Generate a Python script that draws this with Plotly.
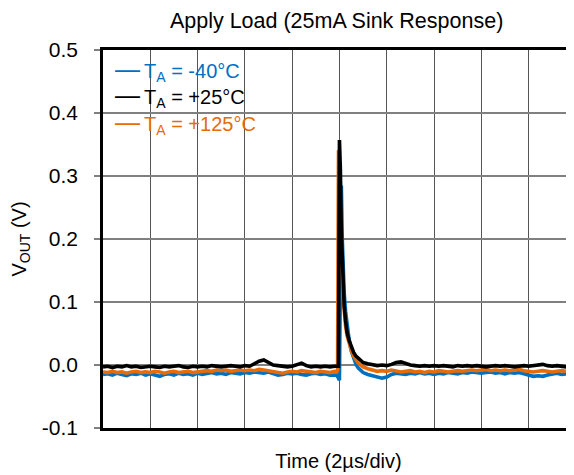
# -*- coding: utf-8 -*-

import plotly.graph_objects as go

# time axis in divisions (1 div = 2us)
time_div = [
    0.0, 0.1, 0.2, 0.3, 0.4, 0.5, 0.6, 0.7, 0.8, 0.9,
    1.0, 1.1, 1.2, 1.3, 1.4, 1.5, 1.6, 1.7, 1.8, 1.9,
    2.0, 2.1, 2.2, 2.3, 2.4, 2.5, 2.6, 2.7, 2.8, 2.9,
    3.0, 3.1, 3.2, 3.3, 3.4, 3.5, 3.6, 3.7, 3.8, 3.9,
    4.0, 4.1, 4.2, 4.3, 4.4, 4.5, 4.6, 4.7, 4.8, 4.9,
    4.94, 4.96, 4.98, 5.0, 5.02, 5.04, 5.06, 5.08, 5.1, 5.13,
    5.16, 5.2, 5.25, 5.3, 5.35, 5.4, 5.45, 5.5,
    5.6, 5.7, 5.8, 5.9, 6.0, 6.1, 6.2, 6.3, 6.4, 6.5,
    6.6, 6.7, 6.8, 6.9, 7.0, 7.1, 7.2, 7.3, 7.4, 7.5,
    7.6, 7.7, 7.8, 7.9, 8.0, 8.1, 8.2, 8.3, 8.4, 8.5,
    8.6, 8.7, 8.8, 8.9, 9.0, 9.1, 9.2, 9.3, 9.4, 9.5,
    9.6, 9.7, 9.8, 9.9, 10.0,
]

# VOUT (V), TA = -40C
vout_m40 = [
    -0.015, -0.014, -0.016, -0.013, -0.015, -0.017, -0.014, -0.015, -0.013, -0.016,
    -0.014, -0.016, -0.018, -0.015, -0.014, -0.016, -0.013, -0.015, -0.014, -0.016,
    -0.013, -0.015, -0.014, -0.012, -0.014, -0.013, -0.015, -0.012, -0.013, -0.014,
    -0.012, -0.013, -0.011, -0.012, -0.013, -0.011, -0.014, -0.016, -0.015, -0.013,
    -0.014, -0.013, -0.015, -0.016, -0.014, -0.013, -0.015, -0.014, -0.016, -0.015,
    -0.016, -0.018, -0.021, -0.024, 0.13, 0.285, 0.20, 0.15, 0.115, 0.085,
    0.062, 0.043, 0.022, 0.009, 0.001, -0.005, -0.009, -0.012,
    -0.015, -0.017, -0.020, -0.021, -0.019, -0.015, -0.013, -0.014, -0.015, -0.013,
    -0.014, -0.012, -0.014, -0.013, -0.015, -0.013, -0.014, -0.012, -0.013, -0.014,
    -0.012, -0.013, -0.011, -0.012, -0.013, -0.012, -0.011, -0.013, -0.012, -0.014,
    -0.012, -0.013, -0.012, -0.014, -0.016, -0.018, -0.017, -0.018, -0.016, -0.014,
    -0.013, -0.015, -0.014, -0.013, -0.014,
]

# VOUT (V), TA = +25C
vout_p25 = [
    -0.003, -0.002, -0.004, -0.002, -0.003, -0.001, -0.003, -0.002, -0.004, -0.003,
    -0.002, -0.003, -0.004, -0.002, -0.003, -0.002, -0.001, -0.003, -0.004, -0.002,
    -0.003, -0.002, -0.003, -0.001, -0.002, -0.003, -0.002, -0.001, -0.002, -0.003,
    -0.001, -0.002, 0.002, 0.006, 0.008, 0.004, 0.000, -0.001, -0.002, -0.003,
    -0.002, 0.001, 0.003, -0.001, -0.003, -0.002, -0.003, -0.002, -0.003, -0.002,
    -0.002, -0.003, -0.002, 0.357, 0.31, 0.21, 0.155, 0.12, 0.095, 0.07,
    0.052, 0.040, 0.029, 0.020, 0.014, 0.010, 0.007, 0.004,
    0.002, 0.000, -0.001, 0.000, -0.001, 0.001, 0.004, 0.005, 0.002, 0.000,
    -0.001, -0.002, -0.001, -0.002, -0.001, -0.002, -0.001, -0.002, -0.003, -0.001,
    -0.002, -0.001, -0.002, -0.001, -0.002, -0.003, -0.002, -0.001, -0.002, -0.001,
    -0.002, -0.003, -0.002, -0.001, -0.002, -0.001, 0.000, 0.001, -0.001, -0.002,
    -0.001, -0.002, -0.003, -0.002, -0.002,
]

# VOUT (V), TA = +125C
vout_p125 = [
    -0.011, -0.012, -0.010, -0.012, -0.011, -0.013, -0.011, -0.010, -0.012, -0.011,
    -0.012, -0.010, -0.011, -0.013, -0.011, -0.010, -0.012, -0.011, -0.010, -0.012,
    -0.011, -0.010, -0.009, -0.010, -0.008, -0.009, -0.008, -0.010, -0.009, -0.008,
    -0.009, -0.008, -0.009, -0.007, -0.008, -0.009, -0.010, -0.012, -0.013, -0.011,
    -0.010, -0.011, -0.009, -0.010, -0.011, -0.012, -0.010, -0.011, -0.012, -0.010,
    -0.011, -0.009, 0.341, 0.30, 0.235, 0.175, 0.135, 0.105, 0.083, 0.062,
    0.047, 0.034, 0.023, 0.014, 0.008, 0.003, 0.000, -0.003,
    -0.006, -0.008, -0.010, -0.009, -0.010, -0.008, -0.009, -0.011, -0.010, -0.009,
    -0.011, -0.010, -0.012, -0.010, -0.011, -0.009, -0.010, -0.011, -0.010, -0.009,
    -0.010, -0.009, -0.008, -0.009, -0.008, -0.007, -0.009, -0.008, -0.009, -0.008,
    -0.009, -0.008, -0.007, -0.009, -0.010, -0.011, -0.010, -0.009, -0.010, -0.011,
    -0.010, -0.009, -0.010, -0.011, -0.010,
]

y_ticks = [-0.1, 0.0, 0.1, 0.2, 0.3, 0.4, 0.5]
y_ticktext = ["-0.1", "0.0", "0.1", "0.2", "0.3", "0.4", "0.5"]

series = [
    ("T<sub>A</sub> = -40°C", vout_m40, "#0070C0"),
    ("T<sub>A</sub> = +125°C", vout_p125, "#E46C0A"),
    ("T<sub>A</sub> = +25°C", vout_p25, "#000000"),
]
legend_order = [
    ("T<sub>A</sub> = -40°C", "#0070C0"),
    ("T<sub>A</sub> = +25°C", "#000000"),
    ("T<sub>A</sub> = +125°C", "#E46C0A"),
]

FONT = "Liberation Sans, Arial, sans-serif"

fig = go.Figure()
for name, vals, color in series:
    fig.add_trace(go.Scatter(
        x=time_div, y=vals, name=name, mode="lines",
        line=dict(color=color, width=3.6),
        showlegend=False,
    ))

# legend drawn as coloured text, like the original
for i, (name, color) in enumerate(legend_order):
    fig.add_annotation(
        xref="paper", yref="paper", x=0.021, y=0.946 - i * 0.069,
        xanchor="left", yanchor="middle", showarrow=False,
        text='<span style="font-size:25px">—</span>\u2009' + name,
        font=dict(family=FONT, size=20, color=color),
    )

fig.update_xaxes(
    range=[0, 9.96], dtick=1, showticklabels=False, ticks="",
    showgrid=True, gridcolor="#555555", gridwidth=1.2, zeroline=False,
    showline=True, linecolor="black", linewidth=2.5, mirror=True,
    automargin=False,
    title=dict(text="Time (2µs/div)", font=dict(family=FONT, size=20, color="black"), standoff=25),
)
fig.update_yaxes(
    range=[-0.1, 0.5], tickvals=y_ticks, ticktext=y_ticktext,
    ticks="outside", ticklen=6, tickcolor="#808080", tickwidth=1.8,
    ticklabelstandoff=12, tickfont=dict(family=FONT, size=21, color="black"),
    showgrid=True, gridcolor="#808080", gridwidth=1.8, zeroline=False,
    showline=True, linecolor="black", linewidth=2.5, mirror=False,
    automargin=False,
    title=dict(text="V<sub>OUT</sub> (V)", font=dict(family=FONT, size=20, color="black"), standoff=14),
)
# the page body adds an 8px offset, margins below allow for it
fig.update_layout(
    width=574, height=475,
    margin=dict(l=95, r=8, t=42, b=55, autoexpand=False),
    paper_bgcolor="white", plot_bgcolor="white",
    title=dict(text="Apply Load (25mA Sink Response)", xref="paper", x=0.496, xanchor="center",
               y=1 - 12 / 475, yanchor="middle", font=dict(family=FONT, size=21.5, color="black")),
)

fig.write_html("out.html")
